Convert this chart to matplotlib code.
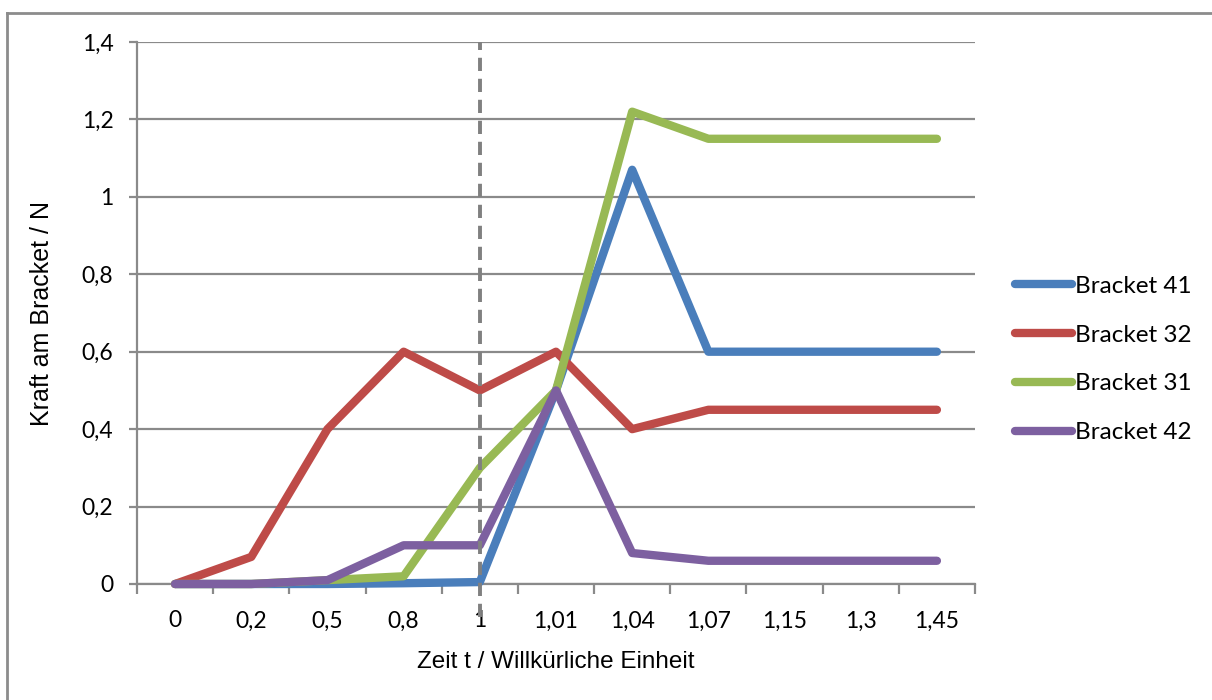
import matplotlib
matplotlib.use("Agg")
import matplotlib.pyplot as plt
from matplotlib.lines import Line2D

# Kategorien (Zeitpunkte) und Kräfte pro Bracket
zeit = ['0', '0,2', '0,5', '0,8', '1', '1,01', '1,04', '1,07', '1,15', '1,3', '1,45']
bracket_41 = [0, 0, 0, 0.002, 0.005, 0.5, 1.07, 0.6, 0.6, 0.6, 0.6]
bracket_32 = [0, 0.07, 0.4, 0.6, 0.5, 0.6, 0.4, 0.45, 0.45, 0.45, 0.45]
bracket_31 = [0, 0, 0.01, 0.02, 0.3, 0.5, 1.22, 1.15, 1.15, 1.15, 1.15]
bracket_42 = [0, 0, 0.01, 0.1, 0.1, 0.5, 0.08, 0.06, 0.06, 0.06, 0.06]
marker_idx = 4  # gestrichelte Linie bei t = 1

y_ticks = [0, 0.2, 0.4, 0.6, 0.8, 1.0, 1.2, 1.4]
y_labels = ['0', '0,2', '0,4', '0,6', '0,8', '1', '1,2', '1,4']

tick_font = 'Lato'
title_font = 'Liberation Sans'
grid_col = '#8a8a8a'

fig = plt.figure(figsize=(12.12, 7.0), dpi=100)
ax = fig.add_axes([137 / 1212, 1 - 584 / 700, (975 - 137) / 1212, (584 - 42) / 700])

x = list(range(len(zeit)))
series = [
    (bracket_41, 'Bracket 41', '#4a7ebb'),
    (bracket_32, 'Bracket 32', '#be4b48'),
    (bracket_31, 'Bracket 31', '#98b954'),
    (bracket_42, 'Bracket 42', '#7d60a0'),
]
for vals, name, col in series:
    ax.plot(x, vals, color=col, lw=6.0, label=name, solid_capstyle='round',
            solid_joinstyle='round', clip_on=False, zorder=3)

# gestrichelte Markierung
dash = Line2D([marker_idx, marker_idx], [-0.085, 1.4], color='#808080', lw=2.8,
              dashes=(3.4, 2.0), transform=ax.transData, clip_on=False, zorder=5)
ax.add_line(dash)

ax.set_xlim(-0.5, len(zeit) - 0.5)
ax.set_ylim(0, 1.4)

# Gitter und Achsen
ax.set_yticks(y_ticks)
ax.set_yticklabels(y_labels, fontfamily=tick_font, fontsize=16.5)
ax.yaxis.grid(True, color=grid_col, lw=1.6)
ax.set_axisbelow(True)
ax.tick_params(axis='y', length=6, width=1.6, color=grid_col, pad=11)

ax.set_xticks([i - 0.5 for i in range(len(zeit) + 1)])
ax.set_xticklabels([])
ax.set_xticks(x, minor=True)
ax.set_xticklabels(zeit, minor=True, fontfamily=tick_font, fontsize=16.5)
ax.tick_params(axis='x', which='major', length=7, width=1.6, color=grid_col)
ax.tick_params(axis='x', which='minor', length=0, pad=19)

for side in ['top', 'right']:
    ax.spines[side].set_visible(False)
for side in ['left', 'bottom']:
    ax.spines[side].set_color(grid_col)
    ax.spines[side].set_linewidth(1.6)

ax.set_xlabel('Zeit t / Willkürliche Einheit', fontfamily=title_font, fontsize=17.5, labelpad=14)
ax.set_ylabel('Kraft am Bracket / N', fontfamily=title_font, fontsize=18, labelpad=20)

fig.legend(loc='center left', bbox_to_anchor=(1015 / 1212, 1 - 359.5 / 700), frameon=False,
           prop={'family': tick_font, 'size': 17.5}, handlelength=2.35, handletextpad=0.12,
           labelspacing=1.15, borderpad=0, borderaxespad=0)

# Rahmen des Diagramms (oben und links)
fig.add_artist(Line2D([7 / 1212, 1], [1 - 13 / 700, 1 - 13 / 700], color='#8c8c8c', lw=2,
                      transform=fig.transFigure))
fig.add_artist(Line2D([7 / 1212, 7 / 1212], [0, 1 - 13 / 700], color='#8c8c8c', lw=2,
                      transform=fig.transFigure))

plt.savefig('out.png', dpi=100)
